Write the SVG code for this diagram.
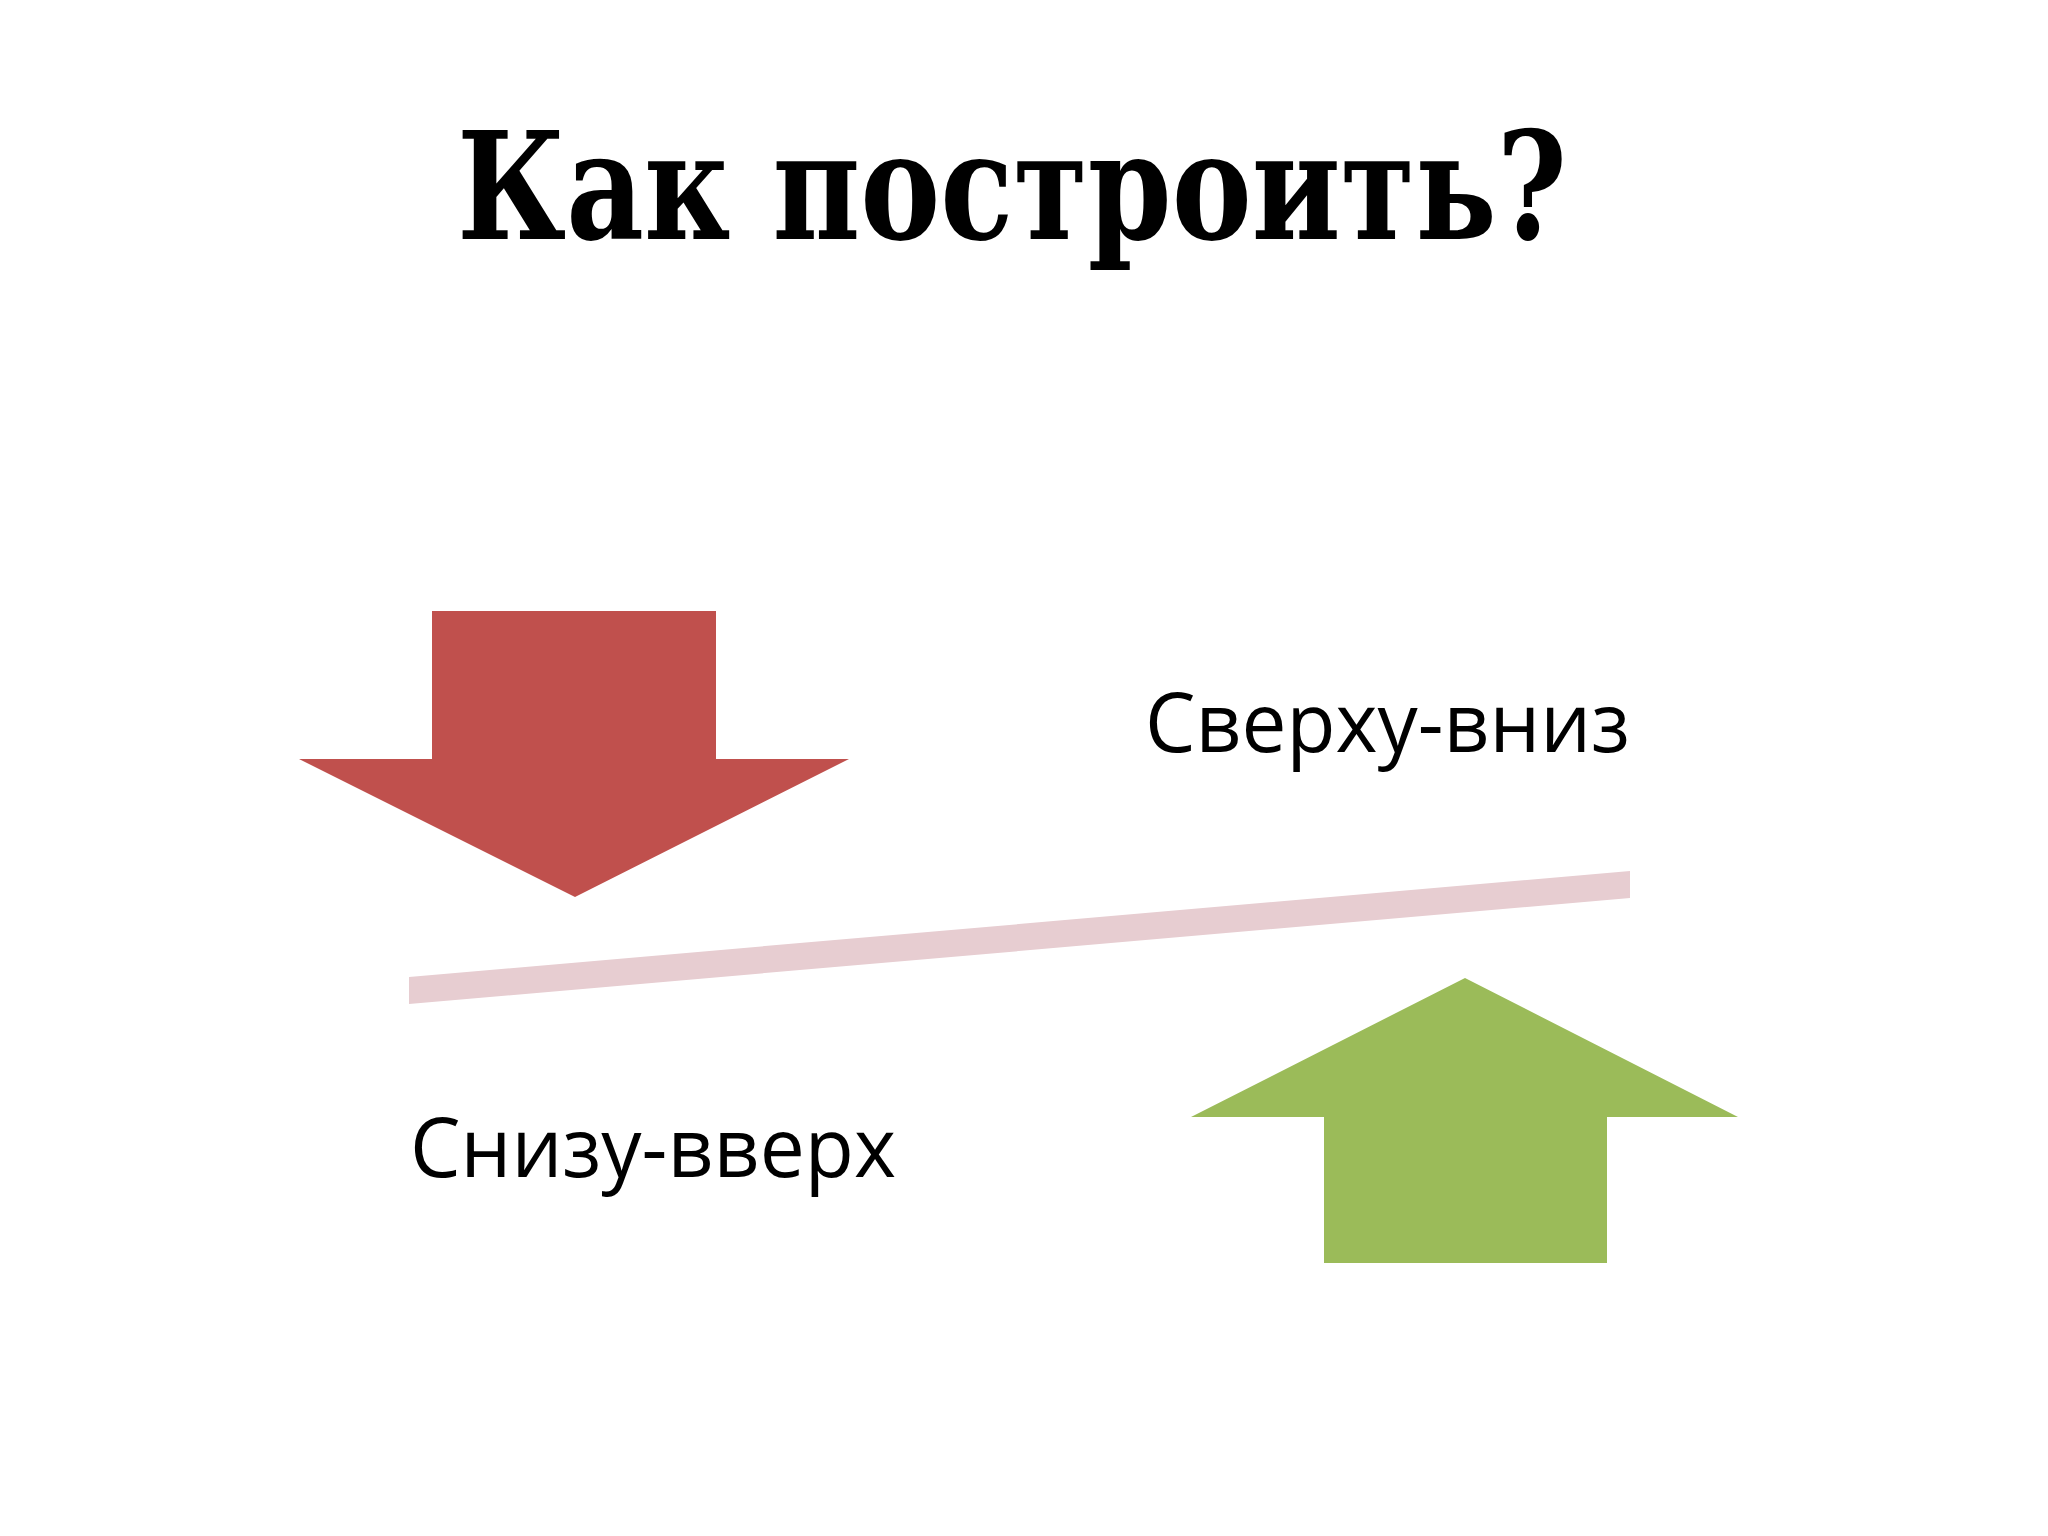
<svg xmlns="http://www.w3.org/2000/svg" width="2048" height="1536" viewBox="0 0 2048 1536">
<style>
.title{font-family:"DejaVu Serif","Liberation Serif",serif;font-weight:bold;font-size:150px;fill:#000}
.label{font-family:"Open Sans","Noto Sans","Liberation Sans",sans-serif;font-size:82px;fill:#000}
</style>
<rect width="2048" height="1536" fill="#ffffff"/>
<g id="title"><text class="title" x="457" y="239" textLength="1110" lengthAdjust="spacingAndGlyphs">Как построить?</text></g>
<g id="arrow-down"><polygon points="432,611 716,611 716,759 849,759 575,897 299,759 432,759" fill="#c0504d"/></g>
<g id="connectors"><polygon points="409,977 1630,871 1630,898 409,1004" fill="#e7cdd1"/></g>
<g id="arrow-up"><polygon points="1465,978 1738,1117 1607,1117 1607,1263 1324,1263 1324,1117 1191,1117" fill="#9bbb59"/></g>
<g id="label-top"><text class="label" x="1145" y="752" textLength="485" lengthAdjust="spacingAndGlyphs">Сверху-вниз</text></g>
<g id="label-bottom"><text class="label" x="410" y="1177" textLength="486" lengthAdjust="spacingAndGlyphs">Снизу-вверх</text></g>
</svg>
